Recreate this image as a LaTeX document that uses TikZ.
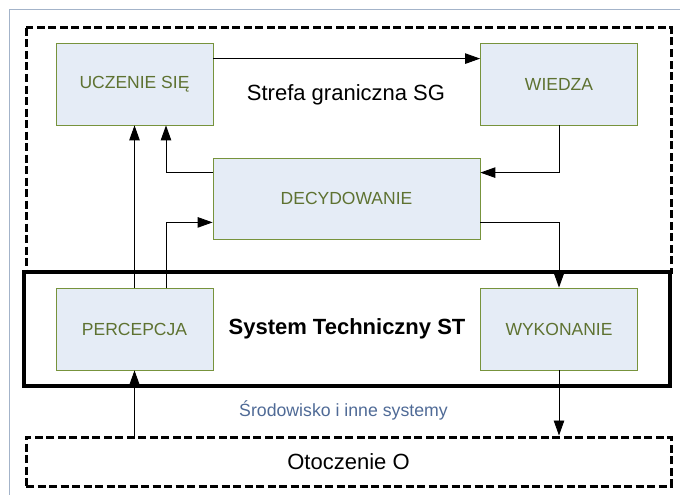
\documentclass[tikz,border=0pt]{standalone}
\usepackage{fontspec}
\setmainfont{Liberation Sans}
\usetikzlibrary{arrows.meta}
\definecolor{boxfill}{HTML}{E5ECF6}
\definecolor{boxline}{HTML}{77933C}
\definecolor{boxtext}{HTML}{5E7231}
\definecolor{envtext}{HTML}{4F6A96}
\definecolor{framecol}{HTML}{A3B3C9}

\begin{document}
\begin{tikzpicture}[x=1pt,y=-1pt,
        blok/.style={draw=boxline,fill=boxfill,text=boxtext,line width=0.8pt,
            minimum width=157pt,minimum height=82pt,font=\fontsize{17.5}{20}\selectfont},
        strefa/.style={draw,line width=3pt,dash pattern=on 8pt off 3.5pt},
        arr/.style={-{Triangle[length=15pt,width=10.5pt]},line width=0.9pt}]
        \useasboundingbox (0,0) rectangle (680,495);
        \draw[framecol,line width=1pt] (9,495) -- (9,10) -- (680,10);
        \draw[strefa] (26,28) rectangle (671,272);
        \node[strefa,minimum width=645pt,minimum height=49pt,font=\fontsize{22}{26}\selectfont] (oto) at (348.5,461.5) {Otoczenie O};
        \node[draw,line width=3.5pt,minimum width=646pt,minimum height=114pt,font=\bfseries\fontsize{22}{26}\selectfont] (st) at (347,329) {System Techniczny ST};
        \node[font=\fontsize{22}{26}\selectfont] (sg) at (346,95) {Strefa graniczna SG};
        \node[text=envtext,font=\fontsize{17.7}{20}\selectfont] (env) at (343.5,410) {Środowisko i inne systemy};

        \node[blok] (ucz) at (134.5,84) {UCZENIE SIĘ};
        \node[blok] (wie) at (559,84) {WIEDZA};
        \node[blok,minimum width=267pt,minimum height=81pt] (dec) at (346.5,198.5) {DECYDOWANIE};
        \node[blok] (per) at (134.5,329) {PERCEPCJA};
        \node[blok] (wyk) at (559,329) {WYKONANIE};

        \draw[arr] ([yshift=-16pt]ucz.north east) -- ([yshift=-16pt]wie.north west);
        \draw[arr] (wie.south) |- ([yshift=-15pt]dec.north east);
        \draw[arr] ([yshift=-15pt]dec.north west) -| ([xshift=31.5pt]ucz.south);
        \draw[arr] (per.north) -- (ucz.south);
        \draw[arr] ([xshift=31.5pt]per.north) |- ([yshift=17pt]dec.south west);
        \draw[arr] ([yshift=17pt]dec.south east) -| (wyk.north);
        \draw[arr] (wyk.south) -- (wyk.south |- oto.north);
        \draw[arr] (per.south |- oto.north) -- (per.south);
    \end{tikzpicture}
\end{document}
